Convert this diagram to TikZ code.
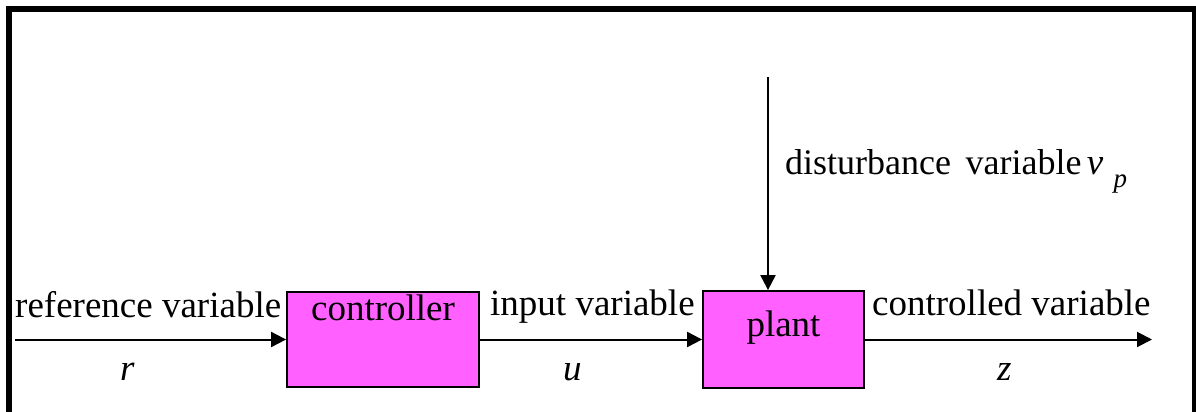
\documentclass[tikz,border=0pt]{standalone}
\usepackage{fontspec}
\setmainfont{Liberation Serif}
\usetikzlibrary{arrows.meta}
\definecolor{boxfill}{HTML}{FF60FF}
\begin{document}
\begin{tikzpicture}[x=1pt,y=-1pt,
  blk/.style={draw=black, line width=1.8pt, fill=boxfill, inner sep=0pt},
  sig/.style={line width=2pt, -{Triangle[length=15pt,width=15pt]}},
  txt/.style={inner sep=0pt, anchor=base west, font=\fontsize{37}{41}\selectfont}]
\useasboundingbox (0,0) rectangle (1196,412);
\draw[line width=6pt] (9,440) -- (9,9) -- (1195,9) -- (1195,440);
% blocks
\node[blk, minimum width=192pt, minimum height=95pt] (ctrl) at (383,339.5) {};
\node[blk, minimum width=161pt, minimum height=97pt] (plant) at (783.5,339.5) {};
% free ends
\coordinate (rin) at (15,339.5);
\coordinate (zout) at (1152,339.5);
\coordinate (vtop) at (768,77);
% connectors
\draw[sig] (rin) -- (ctrl.west);
\draw[sig] (ctrl.east) -- (plant.west);
\draw[sig] (plant.east) -- (zout);
\draw[sig] (vtop) -- (vtop |- plant.north);
% labels
\node[txt] (lref) at (15,317) {reference variable};
\node[txt] (lr) at (120,380) {\itshape r};
\node[txt, anchor=base] (lctrl) at (383,320) {controller};
\node[txt] (lin) at (490,315) {input variable};
\node[txt] (lu) at (563,380) {\itshape u};
\node[txt, anchor=base] (lplant) at (783.5,336) {plant};
\node[txt] (lout) at (872,315) {controlled variable};
\node[txt] (lz) at (997,380) {\itshape z};
\node[txt, font=\fontsize{36}{40}\selectfont] (ldist) at (785,174) {disturbance\hspace{0.4em}variable};
\node[txt, xshift=5pt] (lv) at (ldist.base east) {\itshape v};
\node[txt, font=\fontsize{27}{30}\selectfont\itshape, xshift=10pt, yshift=-13pt] (lp) at (lv.base east) {p};
\end{tikzpicture}
\end{document}
